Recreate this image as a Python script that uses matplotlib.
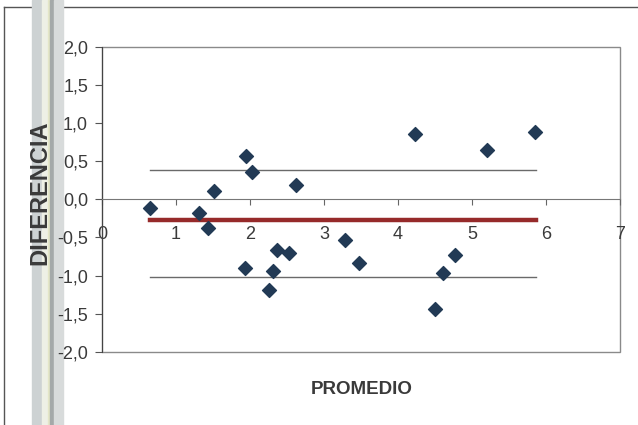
import numpy as np
import matplotlib.pyplot as plt
from matplotlib.patches import Rectangle
from matplotlib.lines import Line2D
from matplotlib.ticker import FuncFormatter

# Bland-Altman style data
promedio = [0.65, 1.31, 1.43, 1.51, 1.95, 2.03, 1.93, 2.31, 2.26, 2.37,
            2.53, 2.62, 3.28, 3.47, 4.23, 4.50, 4.61, 4.77, 5.20, 5.85]
diferencia = [-0.12, -0.18, -0.37, 0.11, 0.56, 0.36, -0.90, -0.94, -1.19, -0.66,
              -0.71, 0.19, -0.54, -0.84, 0.85, -1.44, -0.97, -0.73, 0.65, 0.88]

media = -0.27          # mean difference
lim_sup = 0.38         # upper limit of agreement
lim_inf = -1.02        # lower limit of agreement
line_x = [0.65, 5.87]  # extent of the reference lines

plt.rcParams["font.family"] = ["Liberation Sans", "DejaVu Sans"]
text_color = "#3a3a3a"

fig = plt.figure(figsize=(6.38, 4.25), dpi=100)
fig.patch.set_facecolor("white")

# scanned page artefacts: binding shadow bands and outer frame
for x0, w, c in [(32, 10, "#cdd2d3"), (42, 6, "#eef0e6"), (48, 2, "#e4e6c8"),
                 (50, 4, "#a4a9a9"), (54, 9, "#d8dbdb")]:
    fig.patches.append(Rectangle((x0 / 638, 0), w / 638, 1, transform=fig.transFigure,
                                 color=c, zorder=-1))
fig.lines.append(Line2D([4 / 638, 1], [1 - 7 / 425] * 2, transform=fig.transFigure,
                        color="#555555", lw=1, zorder=-1))
fig.lines.append(Line2D([4 / 638] * 2, [0, 1 - 7 / 425], transform=fig.transFigure,
                        color="#555555", lw=1, zorder=-1))

ax = fig.add_axes([102 / 638, 1 - 352 / 425, 518 / 638, 305.5 / 425])
ax.set_xlim(0, 7)
ax.set_ylim(-2, 2)

# plot area border
ax.add_patch(Rectangle((0, 0), 1, 1, transform=ax.transAxes, fill=False,
                       edgecolor="#8a8a8a", lw=1, clip_on=False, zorder=1))
for s in ["top", "right"]:
    ax.spines[s].set_visible(False)
ax.spines["left"].set_color("#444444")
ax.spines["bottom"].set_position(("data", 0))
ax.spines["bottom"].set_color("#777777")

ax.plot(line_x, [lim_sup, lim_sup], color="#6a6a6a", lw=1, zorder=2)
ax.plot(line_x, [lim_inf, lim_inf], color="#6a6a6a", lw=1, zorder=2)
ax.plot(line_x, [media, media], color="#962a2a", lw=3.2, zorder=3)
ax.scatter(promedio, diferencia, marker="D", s=50, color="#223a55", zorder=4)

ax.set_xticks(range(0, 8))
ax.set_yticks(np.arange(-2, 2.01, 0.5))
ax.yaxis.set_major_formatter(FuncFormatter(lambda v, p: ("%.1f" % v).replace(".", ",")))
ax.tick_params(axis="x", direction="out", length=4, pad=15, labelsize=13,
               colors="#666666", labelcolor=text_color)
ax.tick_params(axis="y", direction="out", length=5, pad=5, labelsize=13,
               colors="#555555", labelcolor=text_color)

fig.text(362 / 638, 1 - 389 / 425, "PROMEDIO", ha="center", va="center",
         fontsize=13.5, fontweight="bold", color=text_color)
fig.text(40 / 638, 1 - 193 / 425, "DIFERENCIA", ha="center", va="center",
         rotation=90, fontsize=17, fontweight="bold", color=text_color)

fig.savefig("out.png", dpi=100)
